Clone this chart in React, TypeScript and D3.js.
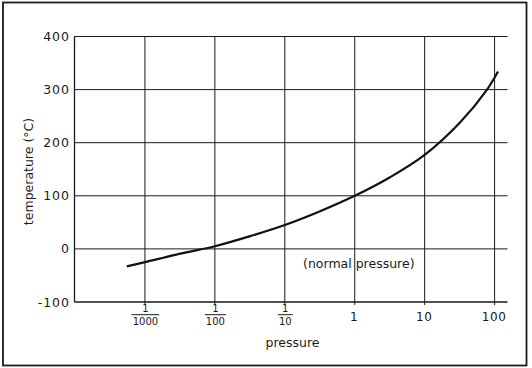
import * as d3 from "d3";
import React from "react";

// vapour curve: pressure (log scale) vs temperature
const pressure = [0.00055, 0.001, 0.0032, 0.01, 0.032, 0.1, 0.32, 1, 3.2, 10, 32, 78, 112];
const temperature = [-33, -25, -9, 5, 24, 45, 71, 100, 135, 177, 238, 300, 334];

const yTicks = [-100, 0, 100, 200, 300, 400];
const xTicks = [0.001, 0.01, 0.1, 1, 10, 100];
// [numerator, denominator] — null denominator means a plain number
const xTickLabels: Array<[string, string | null]> = [
    ["1", "1000"],
    ["1", "100"],
    ["1", "10"],
    ["1", null],
    ["10", null],
    ["100", null],
];

const width = 532;
const height = 368;
const font = "'DejaVu Sans', sans-serif";
const ink = "#1a1a1a";

const App: React.FC = () => {
    const x = d3.scaleLog().domain([1e-4, 100]).range([75, 494.6]);
    const y = d3.scaleLinear().domain([-100, 400]).range([302, 36.5]);
    const left = 74.5;
    const right = 507.5;

    const line = d3
        .line<number>()
        .x((_, i) => x(pressure[i]))
        .y((d) => y(d))
        .curve(d3.curveCatmullRom.alpha(0.5));

    return (
        <svg
            width={width}
            height={height}
            viewBox={`0 0 ${width} ${height}`}
            style={{ position: "absolute", left: 0, top: 0, background: "#fff" }}
        >
            <rect x={3} y={2.5} width={523.5} height={363} fill="none" stroke={ink} strokeWidth={1.8} />

            {/* horizontal grid */}
            {yTicks.map((t) => (
                <g key={t}>
                    <line
                        x1={left}
                        x2={right}
                        y1={y(t)}
                        y2={y(t)}
                        stroke={ink}
                        strokeWidth={t === -100 ? 1.4 : 1}
                    />
                    <text
                        x={70}
                        y={y(t)}
                        dy="0.36em"
                        textAnchor="end"
                        fontFamily={font}
                        fontSize={12.5}
                        letterSpacing={1}
                        fill={ink}
                    >
                        {t < 0 ? `-${Math.abs(t)}` : t}
                    </text>
                </g>
            ))}

            {/* left axis */}
            <line x1={left} x2={left} y1={y(400)} y2={y(-100)} stroke={ink} strokeWidth={1.3} />

            {/* vertical grid + labels */}
            {xTicks.map((t, i) => {
                const [num, den] = xTickLabels[i];
                const cx = x(t) + 0.5;
                return (
                    <g key={t}>
                        <line x1={x(t)} x2={x(t)} y1={y(400)} y2={y(-100) + 3} stroke={ink} strokeWidth={1} />
                        {den ? (
                            <g fontFamily={font} fontSize={10} fill={ink} textAnchor="middle">
                                <text x={cx} y={312.3}>{num}</text>
                                <line
                                    x1={cx - den.length * 3.2 - 1}
                                    x2={cx + den.length * 3.2 + 1}
                                    y1={314.7}
                                    y2={314.7}
                                    stroke={ink}
                                    strokeWidth={1}
                                />
                                <text x={cx} y={324.7}>{den}</text>
                            </g>
                        ) : (
                            <text
                                x={cx - 1}
                                y={320.7}
                                textAnchor="middle"
                                fontFamily={font}
                                fontSize={12}
                                letterSpacing={0.6}
                                fill={ink}
                            >
                                {num}
                            </text>
                        )}
                    </g>
                );
            })}

            <path d={line(temperature) || ""} fill="none" stroke="#111" strokeWidth={2.2} />

            <text x={358.8} y={268} textAnchor="middle" fontFamily={font} fontSize={12.5} fill={ink}>
                (normal pressure)
            </text>
            <text x={292.5} y={346.7} textAnchor="middle" fontFamily={font} fontSize={12.5} fill={ink}>
                pressure
            </text>
            <text
                transform={`translate(33, 171.5) rotate(-90)`}
                textAnchor="middle"
                fontFamily={font}
                fontSize={12.5}
                fill={ink}
            >
                temperature (°C)
            </text>
        </svg>
    );
};

export default App;
